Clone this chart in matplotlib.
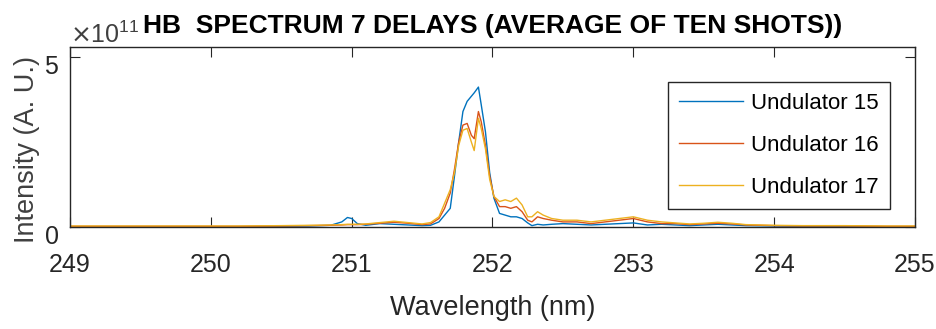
import numpy as np
import matplotlib
matplotlib.use("Agg")
import matplotlib.pyplot as plt
from matplotlib.ticker import ScalarFormatter
from matplotlib.transforms import ScaledTranslation

FONT = ['Liberation Sans', 'DejaVu Sans']

# wavelength (nm)
wl = [249.0, 249.3, 249.6, 249.9, 250.2, 250.5, 250.7, 250.85, 250.93, 250.97,
      251.0, 251.04, 251.1, 251.2, 251.3, 251.4, 251.5, 251.56, 251.62, 251.66,
      251.7, 251.73, 251.76, 251.79, 251.82, 251.85, 251.87, 251.9, 251.92, 251.95,
      251.98, 252.01, 252.05, 252.09, 252.13, 252.17, 252.21, 252.25, 252.28, 252.32,
      252.36, 252.42, 252.5, 252.6, 252.7, 252.8, 252.9, 253.0, 253.1, 253.2,
      253.3, 253.4, 253.5, 253.6, 253.7, 253.8, 254.0, 254.2, 254.5, 254.8, 255.0]

# intensity in units of 1e11 (A. U.)
und15 = [0.01, 0.01, 0.01, 0.01, 0.01, 0.02, 0.03, 0.05, 0.15, 0.28,
         0.25, 0.10, 0.05, 0.10, 0.08, 0.06, 0.04, 0.05, 0.15, 0.35,
         0.55, 1.50, 2.50, 3.40, 3.70, 3.85, 3.95, 4.12, 3.60, 2.80,
         1.60, 0.85, 0.40, 0.35, 0.30, 0.30, 0.25, 0.12, 0.04, 0.08,
         0.06, 0.08, 0.10, 0.08, 0.06, 0.08, 0.10, 0.12, 0.06, 0.08,
         0.06, 0.04, 0.06, 0.08, 0.06, 0.04, 0.03, 0.02, 0.02, 0.01, 0.01]
und16 = [0.02, 0.02, 0.02, 0.02, 0.02, 0.03, 0.04, 0.05, 0.06, 0.07,
         0.07, 0.07, 0.08, 0.11, 0.14, 0.11, 0.07, 0.09, 0.25, 0.55,
         1.00, 1.70, 2.50, 3.00, 3.05, 2.70, 2.60, 3.40, 3.10, 2.40,
         1.50, 0.90, 0.60, 0.60, 0.55, 0.60, 0.45, 0.20, 0.15, 0.30,
         0.25, 0.20, 0.15, 0.15, 0.10, 0.15, 0.20, 0.25, 0.15, 0.10,
         0.10, 0.07, 0.09, 0.11, 0.09, 0.06, 0.04, 0.03, 0.03, 0.02, 0.02]
und17 = [0.03, 0.03, 0.03, 0.03, 0.03, 0.04, 0.05, 0.06, 0.07, 0.08,
         0.08, 0.08, 0.09, 0.13, 0.17, 0.13, 0.09, 0.13, 0.30, 0.70,
         1.10, 1.60, 2.40, 2.85, 2.90, 2.50, 2.25, 3.20, 2.90, 2.30,
         1.40, 0.90, 0.75, 0.80, 0.75, 0.85, 0.65, 0.30, 0.30, 0.45,
         0.35, 0.25, 0.20, 0.20, 0.15, 0.20, 0.25, 0.30, 0.20, 0.15,
         0.12, 0.09, 0.11, 0.14, 0.11, 0.07, 0.05, 0.04, 0.04, 0.03, 0.03]

labels = ['Undulator 15', 'Undulator 16', 'Undulator 17']
colors = ['#0072BD', '#D95319', '#EDB120']

fig = plt.figure(figsize=(9.36, 3.29), dpi=100)
ax = fig.add_axes([70 / 936, 1 - 227 / 329, 845 / 936, 180 / 329])

for ys, lab, c in zip([und15, und16, und17], labels, colors):
    ax.plot(wl, np.array(ys) * 1e11, color=c, lw=1.0, label=lab)

ax.set_xlim(249, 255)
ax.set_ylim(0, 5.3e11)
ax.set_xticks(range(249, 256))
ax.set_yticks([0, 5e11])

fmt = ScalarFormatter(useMathText=True)
fmt.set_powerlimits((0, 0))
ax.yaxis.set_major_formatter(fmt)

for s in ax.spines.values():
    s.set_color('#262626')
    s.set_linewidth(1.0)

ax.tick_params(direction='in', length=7, width=0.8, colors='#262626',
               top=True, right=True, labelsize=18)
ax.tick_params(axis='x', pad=19)
ax.tick_params(axis='y', pad=8)
for lbl in ax.get_xticklabels() + ax.get_yticklabels():
    lbl.set_family(FONT)
fig.canvas.draw()
for lbl in ax.get_yticklabels():
    lbl.set_transform(lbl.get_transform() + ScaledTranslation(0, -7 / 100, fig.dpi_scale_trans))

off = ax.yaxis.get_offset_text()
off.set_fontsize(18)
off.set_family(FONT)
off.set_color('#404040')

ax.set_title('HB  SPECTRUM 7 DELAYS (AVERAGE OF TEN SHOTS))', fontsize=19,
             fontweight='bold', family=FONT, pad=10)
ax.set_xlabel('Wavelength (nm)', fontsize=19.5, family=FONT, color='#262626')
ax.xaxis.set_label_coords(0.5, -0.38)
ax.set_ylabel('Intensity (A. U.)', fontsize=19.5, family=FONT, color='#404040')
ax.yaxis.set_label_coords(-0.035, 0.43)

leg = ax.legend(loc='upper right', bbox_to_anchor=(0.970, 0.806),
                prop={'family': FONT, 'size': 16}, fancybox=False,
                edgecolor='#262626', framealpha=1, handlelength=2.9,
                handletextpad=0.35, labelspacing=0.95, borderpad=0.5,
                borderaxespad=0)
leg.get_frame().set_linewidth(1.0)

fig.savefig('out.png', dpi=100)
